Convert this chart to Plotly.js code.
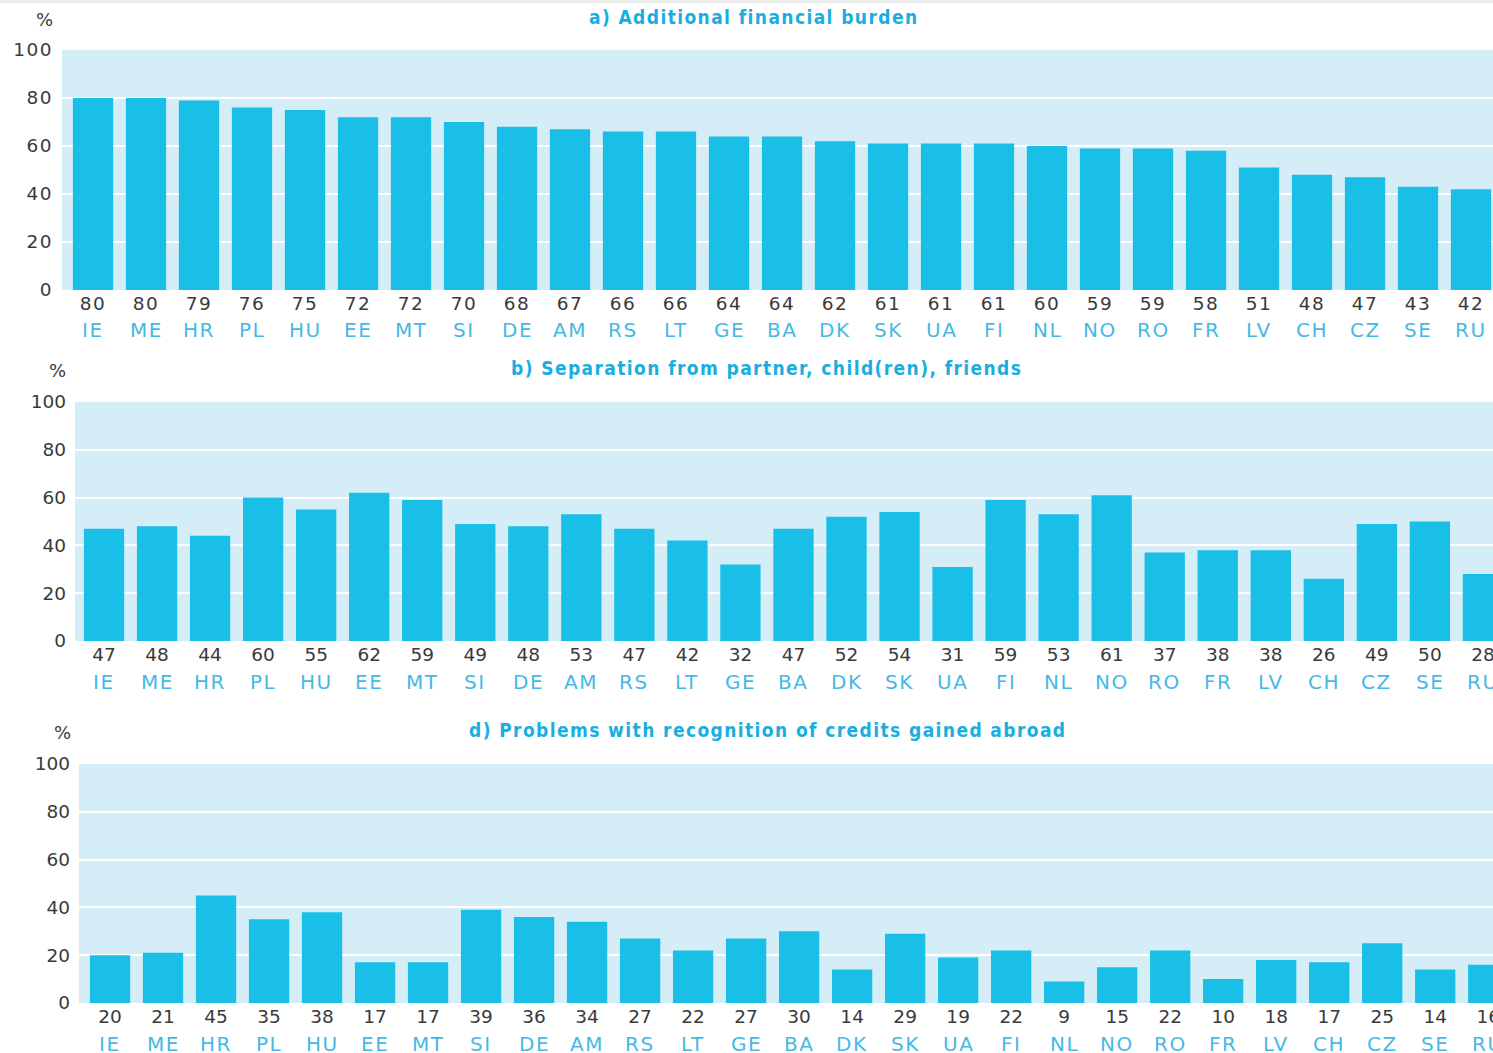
<!DOCTYPE html>
<html>
<head>
<meta charset="utf-8">
<script src="https://cdn.plot.ly/plotly-3.0.1.min.js"></script>
<style>
html,body{margin:0;padding:0;overflow:hidden;background:#fff;}
#chart{width:1493px;height:1053px;}
#chart .xtick text{letter-spacing:1.5px;}
#chart .ytick text{letter-spacing:1.5px;}
</style>
</head>
<body>
<div id="chart"></div>
<script>
const countries = ['IE','ME','HR','PL','HU','EE','MT','SI','DE','AM','RS','LT','GE','BA','DK','SK','UA','FI','NL','NO','RO','FR','LV','CH','CZ','SE','RU'];
const financialBurden = [80,80,79,76,75,72,72,70,68,67,66,66,64,64,62,61,61,61,60,59,59,58,51,48,47,43,42];
const separation = [47,48,44,60,55,62,59,49,48,53,47,42,32,47,52,54,31,59,53,61,37,38,38,26,49,50,28];
const recognition = [20,21,45,35,38,17,17,39,36,34,27,22,27,30,14,29,19,22,9,15,22,10,18,17,25,14,16];
const panelTitles = ['a) Additional financial burden','b) Separation from partner, child(ren), friends','d) Problems with recognition of credits gained abroad'];
const yTicks = [0,20,40,60,80,100];

const W = 1493, H = 1053;
const px = v => v / W;
const py = v => 1 - v / H;

const BAR = '#19bfe6', BG = '#d5edf7', TITLE = '#1aaee0', CODE = '#45b9e5', DARK = '#3a3a3a';
const FONT = 'DejaVu Sans, Liberation Sans, Arial, sans-serif';

// panel geometry (pixels)
const panels = [
  {data: financialBurden, left: 62, top: 50, bottom: 290, range: [-0.585, 26.415], titleX: 754, titleY: 17, pctX: 44, pctY: 20, codeY: 330},
  {data: separation, left: 75, top: 402, bottom: 641, range: [-0.547, 26.19], titleX: 766, titleY: 368, pctX: 57, pctY: 370, codeY: 682},
  {data: recognition, left: 79, top: 764, bottom: 1003, range: [-0.585, 26.09], titleX: 768, titleY: 730, pctX: 62, pctY: 732, codeY: 1044}
];

const traces = [];
const layout = {
  width: W, height: H,
  margin: {l: 0, r: 0, t: 0, b: 0},
  paper_bgcolor: '#fff',
  showlegend: false,
  font: {family: FONT, color: DARK, size: 18},
  annotations: [],
  shapes: [{type: 'rect', xref: 'paper', yref: 'paper', x0: 0, x1: 1, y0: py(3), y1: 1, fillcolor: '#ececec', line: {width: 0}, layer: 'above'}]
};

panels.forEach((p, i) => {
  const n = i === 0 ? '' : String(i + 1);
  traces.push({
    type: 'bar', x: countries, y: p.data,
    xaxis: 'x' + n, yaxis: 'y' + n,
    marker: {color: BAR, line: {width: 0}},
    width: 0.76, hoverinfo: 'x+y'
  });
  layout['xaxis' + n] = {
    domain: [px(p.left), 1], anchor: 'y' + n,
    type: 'category', range: p.range,
    tickmode: 'array', tickvals: countries, ticktext: p.data.map(String),
    tickfont: {family: FONT, size: 18.5, color: DARK},
    ticks: '', showgrid: false, zeroline: false, showline: false,
    ticklabelstandoff: 0
  };
  layout['yaxis' + n] = {
    domain: [py(p.bottom), py(p.top)], anchor: 'x' + n,
    range: [0, 100], tickmode: 'array', tickvals: yTicks,
    tickfont: {family: FONT, size: 18.5, color: DARK},
    ticks: '', showgrid: true, gridcolor: '#ffffff', gridwidth: 2,
    zeroline: false, showline: false, ticklabelstandoff: 8
  };
  layout.shapes.push({type: 'rect', xref: 'x' + n + ' domain', yref: 'y' + n + ' domain', x0: 0, x1: 1, y0: 0, y1: 1, fillcolor: BG, line: {width: 0}, layer: 'below'});
  layout.annotations.push({
    xref: 'paper', yref: 'paper', x: px(p.titleX), y: py(p.titleY), xanchor: 'center', yanchor: 'middle',
    text: '<span style="letter-spacing:1.4px"><b>' + panelTitles[i] + '</b></span>', showarrow: false,
    font: {family: 'DejaVu Sans Condensed, Liberation Sans Narrow, Arial Narrow, sans-serif', size: 19, color: TITLE}
  });
  layout.annotations.push({
    xref: 'paper', yref: 'paper', x: px(p.pctX), y: py(p.pctY), xanchor: 'center', yanchor: 'middle',
    text: '%', showarrow: false, font: {family: FONT, size: 18, color: DARK}
  });
  countries.forEach(c => {
    layout.annotations.push({
      xref: 'x' + n, yref: 'paper', x: c, y: py(p.codeY), xanchor: 'center', yanchor: 'middle',
      text: '<span style="letter-spacing:1.5px">' + c + '</span>', showarrow: false,
      font: {family: FONT, size: 20, color: CODE}
    });
  });
});

Plotly.newPlot('chart', traces, layout, {displayModeBar: false, staticPlot: false});
</script>
</body>
</html>
